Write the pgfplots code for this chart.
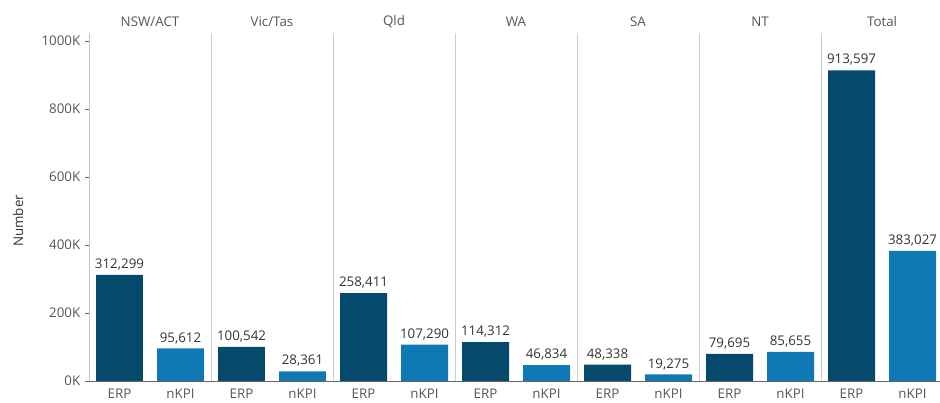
\documentclass[border=0pt]{standalone}
\usepackage{fontspec}
\setmainfont{Open Sans}
\usepackage{pgfplots}
\usepackage{pgfplotstable}
\pgfplotsset{compat=1.18}
\definecolor{erp}{HTML}{054A6D}
\definecolor{nkpi}{HTML}{0F79B5}
\definecolor{txt}{HTML}{555555}
\definecolor{lbl}{HTML}{333333}

\pgfplotstableread{
x y lab
0 312299 312,299
2 100542 100,542
4 258411 258,411
6 114312 114,312
8 48338 48,338
10 79695 79,695
12 913597 913,597
}\erpdata

\pgfplotstableread{
x y lab
1 95612 95,612
3 28361 28,361
5 107290 107,290
7 46834 46,834
9 19275 19,275
11 85655 85,655
13 383027 383,027
}\nkpidata

\begin{document}
\begin{tikzpicture}[font=\fontsize{10}{12}\selectfont]
\begin{axis}[
  at={(0,0)}, anchor=south west,
  scale only axis, width=638.25pt, height=261pt,
  xmin=-0.5, xmax=13.45, ymin=0, ymax=1023500,
  axis x line=bottom, axis y line=left,
  axis line style={-},
  x axis line style={draw=black!60},
  y axis line style={draw=black!22},
  xtick={0,...,13},
  xticklabels={ERP,nKPI,ERP,nKPI,ERP,nKPI,ERP,nKPI,ERP,nKPI,ERP,nKPI,ERP,nKPI},
  x tick style={draw=none},
  x tick label style={text=txt, inner sep=1.5pt, yshift=-1pt},
  ytick={0,200000,400000,600000,800000,1000000},
  yticklabels={0K,200K,400K,600K,800K,1000K},
  y tick style={draw=black!60},
  y tick label style={text=txt},
  tick align=outside,
  major tick length=3pt,
  scaled y ticks=false,
  extra x ticks={1.5,3.5,5.5,7.5,9.5,11.5},
  extra x tick labels={},
  extra x tick style={grid=major, major grid style={draw=black!20, line width=0.5pt}, tick style={draw=none}},
  ylabel={Number},
  ylabel style={at={(axis description cs:-0.0834,0.46)}, anchor=center, text=lbl},
  ybar, bar width=0.77,
  nodes near coords, point meta=explicit symbolic,
  nodes near coords style={text=lbl, font=\fontsize{10}{12}\selectfont},
  clip=false,
]
\addplot[fill=erp, draw=none, bar shift=0pt] table[x=x, y=y, meta=lab]{\erpdata};
\addplot[fill=nkpi, draw=none, bar shift=0pt] table[x=x, y=y, meta=lab]{\nkpidata};
\node[text=txt] at (axis cs:0.5,1055900) {NSW/ACT};
\node[text=txt] at (axis cs:2.5,1055900) {Vic/Tas};
\node[text=txt] at (axis cs:4.5,1055900) {Qld};
\node[text=txt] at (axis cs:6.5,1055900) {WA};
\node[text=txt] at (axis cs:8.5,1055900) {SA};
\node[text=txt] at (axis cs:10.5,1055900) {NT};
\node[text=txt] at (axis cs:12.5,1055900) {Total};
\end{axis}
\pgfresetboundingbox
\path (-66.75pt,-16.5pt) rectangle (638.25pt,285.75pt);
\end{tikzpicture}
\end{document}
